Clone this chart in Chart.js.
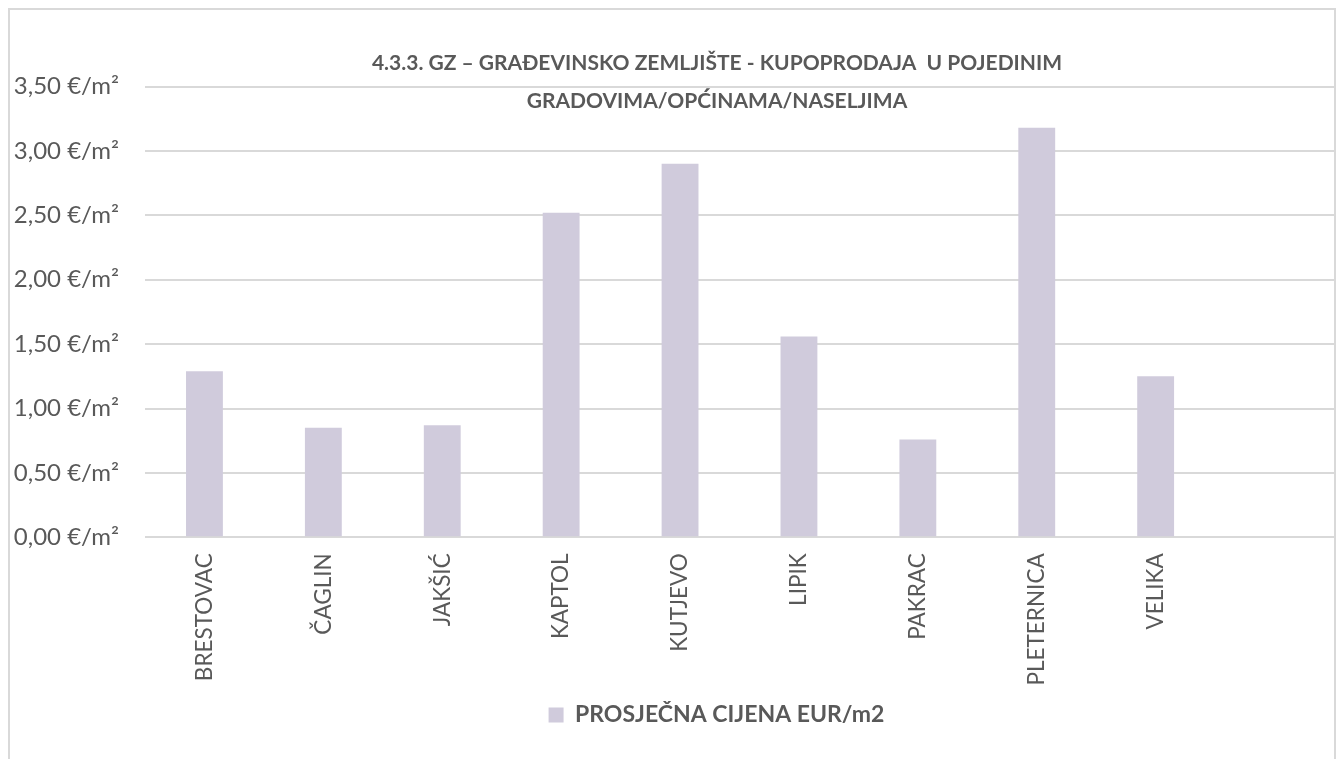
<!DOCTYPE html>
<html>
<head>
<meta charset="utf-8">
<script src="https://cdn.jsdelivr.net/npm/chart.js@4"></script>
<style>
  body { margin: 0; background: #fff; overflow: hidden; }
  #box { position: absolute; left: 8px; top: 8px; width: 1324px; height: 800px; border: 2px solid #d9d9d9; }
</style>
</head>
<body>
<div id="box"><canvas id="myChart"></canvas></div>
<script>
const categories = ['BRESTOVAC', 'ČAGLIN', 'JAKŠIĆ', 'KAPTOL', 'KUTJEVO', 'LIPIK', 'PAKRAC', 'PLETERNICA', 'VELIKA', ''];
const prices = [1.29, 0.85, 0.87, 2.52, 2.90, 1.56, 0.76, 3.18, 1.25, null];
const titleLines = ['4.3.3. GZ – GRAĐEVINSKO ZEMLJIŠTE - KUPOPRODAJA  U POJEDINIM', 'GRADOVIMA/OPĆINAMA/NASELJIMA'];
const seriesName = 'PROSJEČNA CIJENA EUR/m2';

const textColor = '#595959';

// title is overlaid on the plot, like the Excel original
const overlayTitle = {
  id: 'overlayTitle',
  afterLayout(chart) {
    // excel centres the legend a bit left of the plot centre
    chart.legend.left -= 23;
    chart.legend.right -= 23;
  },
  afterDraw(chart) {
    const c = chart.ctx;
    c.save();
    c.font = 'bold 21px Lato';
    c.fillStyle = textColor;
    c.textAlign = 'center';
    c.textBaseline = 'middle';
    c.fillText(titleLines[0], 707, 53);
    c.fillText(titleLines[1], 707, 91);
    c.restore();
  }
};

const ctx = document.getElementById('myChart').getContext('2d');
const myChart = new Chart(ctx, {
  type: 'bar',
  data: {
    labels: categories,
    datasets: [{
      label: seriesName,
      data: prices,
      backgroundColor: '#d0cbdc',
      borderWidth: 0,
      categoryPercentage: 1,
      barPercentage: 0.31,
    }],
  },
  options: {
    responsive: true,
    maintainAspectRatio: false,
    animation: false,
    layout: { padding: { top: 76.5, left: 3, right: 0, bottom: 73.5 } },
    plugins: {
      title: { display: false },
      tooltip: { enabled: false },
      legend: {
        position: 'bottom',
        fullSize: false,
        labels: {
          boxWidth: 15,
          boxHeight: 15,
          color: textColor,
          font: { family: 'Lato', size: 23, weight: 'bold' },
          padding: 10,
        },
      },
    },
    scales: {
      x: {
        grid: { display: false },
        border: { display: false },
        ticks: {
          color: textColor,
          font: { family: 'Lato', size: 22.5 },
          minRotation: 90,
          maxRotation: 90,
          autoSkip: false,
          padding: 8,
        },
      },
      y: {
        min: 0,
        max: 3.5,
        grid: { color: '#d9d9d9', lineWidth: 2, drawTicks: false },
        border: { display: false },
        afterFit(scale) { scale.width = 132; },
        ticks: {
          stepSize: 0.5,
          color: textColor,
          font: { family: 'Lato', size: 24 },
          padding: 26,
          callback: (v) => v.toFixed(2).replace('.', ',') + ' €/m²',
        },
      },
    },
  },
  plugins: [overlayTitle],
});
</script>
</body>
</html>
